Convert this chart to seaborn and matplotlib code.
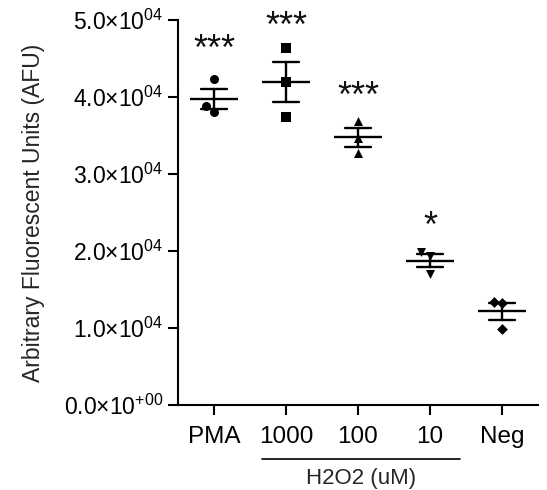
import numpy as np
import pandas as pd
import matplotlib
matplotlib.use("Agg")
import matplotlib.pyplot as plt
import matplotlib.transforms as mtransforms
import seaborn as sns

# values (AFU)
groups = ["PMA", "1000", "100", "10", "Neg"]
pma = [42300, 38100, 38800]
h2o2_1000 = [46400, 41900, 37400]
h2o2_100 = [36900, 34700, 32700]
h2o2_10 = [19900, 19400, 17000]
neg = [13400, 13200, 9900]
markers = ["o", "s", "^", "v", "D"]
stars = ["***", "***", "***", "*", ""]
star_y = [46000, 49000, 39900, 23000, 0]

yticks = [0, 10000, 20000, 30000, 40000, 50000]
ytick_labels = [r"0.0×10$^{+00}$", r"1.0×10$^{04}$", r"2.0×10$^{04}$",
                r"3.0×10$^{04}$", r"4.0×10$^{04}$", r"5.0×10$^{04}$"]

sns.set_style("ticks")
plt.rcParams["font.family"] = ["Liberation Sans", "DejaVu Sans"]
plt.rcParams["mathtext.fontset"] = "custom"
plt.rcParams["mathtext.rm"] = "Liberation Sans"
plt.rcParams["mathtext.it"] = "Liberation Sans"
plt.rcParams["mathtext.default"] = "regular"

values = [pma, h2o2_1000, h2o2_100, h2o2_10, neg]
df = pd.DataFrame({
    "group": np.repeat(groups, 3),
    "value": np.concatenate(values),
})

fig = plt.figure(figsize=(5.47, 4.90), dpi=100)
ax = fig.add_axes([0.3254, 0.1735, 0.658, 0.7855])
ax.set_ylim(0, 50000)

for g, m in zip(groups, markers):
    sub = df[df["group"] == g]
    sns.swarmplot(data=sub, x="group", y="value", order=groups, marker=m,
                  color="black", size=6.5 if m != "D" else 5.5, ax=ax, zorder=3)

sns.pointplot(data=df, x="group", y="value", order=groups, errorbar="se",
              capsize=0.35, color="black", marker="_", markersize=35,
              markeredgewidth=1.7, linestyle="none",
              err_kws={"linewidth": 1.7}, ax=ax, zorder=4)

for i, (s, yv) in enumerate(zip(stars, star_y)):
    if s:
        ax.text(i, yv, s, ha="center", va="center", fontsize=26,
                color="#111111")

ax.set_xlim(-0.5, 4.5)
ax.set_ylim(0, 50000)
ax.set_yticks(yticks)
ax.set_yticklabels(ytick_labels)
ax.set_xlabel("")
ax.set_ylabel("Arbitrary Fluorescent Units (AFU)", fontsize=16.5, labelpad=14)
ax.tick_params(axis="both", colors="black", labelsize=16.5, width=1.5, length=7)
ax.tick_params(axis="x", labelsize=17.5, pad=8)
for sp in ["left", "bottom"]:
    ax.spines[sp].set_linewidth(1.5)
    ax.spines[sp].set_color("black")
sns.despine(ax=ax)

# H2O2 bracket below the concentration labels
trans = mtransforms.blended_transform_factory(ax.transData, ax.transAxes)
ax.plot([0.67, 3.42], [-0.14, -0.14], color="black", lw=1.2,
        transform=trans, clip_on=False)
ax.text(2.045, -0.192, "H2O2 (uM)", transform=trans, ha="center",
        va="center", fontsize=16)

fig.savefig("out.png", dpi=100)
